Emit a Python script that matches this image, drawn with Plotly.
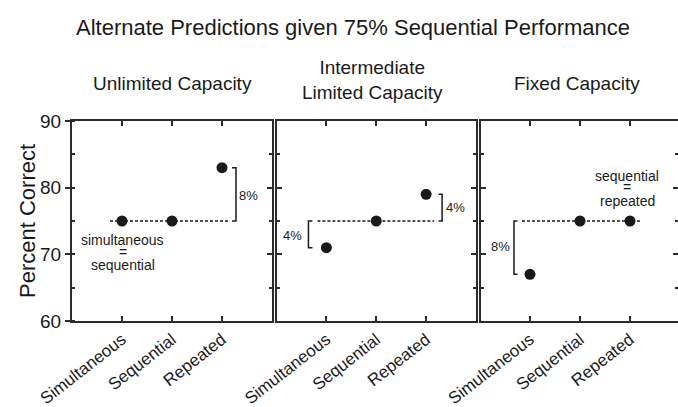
import plotly.graph_objects as go

conditions = ["Simultaneous", "Sequential", "Repeated"]
panel_titles = ["Unlimited Capacity", "Intermediate<br>Limited Capacity", "Fixed Capacity"]
unlimited = [75, 75, 83]
intermediate = [71, 75, 79]
fixed = [67, 75, 75]
baseline = 75
y_ticks = [60, 70, 80, 90]

panels = [unlimited, intermediate, fixed]
FONT = "Liberation Sans, Arial, sans-serif"
INK = "#1a1a1a"
LINE = "#2b2b2b"

fig = go.Figure()

domains = [[0.0, 0.3300], [0.3383, 0.6667], [0.6749, 1.0]]
xranges = [[-1.0, 3.0], [-0.99, 3.0], [-0.98, 2.96]]
# dashed reference line extents (in category units) per panel
dash_ext = [[-0.24, 2.12], [-0.18, 2.16], [-0.16, 2.2]]

for i, vals in enumerate(panels):
    xa = "x" if i == 0 else f"x{i+1}"
    ya = "y" if i == 0 else f"y{i+1}"
    fig.add_trace(go.Scatter(x=dash_ext[i], y=[baseline, baseline], mode="lines",
                             line=dict(color=INK, width=1.4, dash="3px,2px"),
                             xaxis=xa, yaxis=ya, showlegend=False, hoverinfo="skip"))
    fig.add_trace(go.Scatter(x=list(range(len(conditions))), y=vals, mode="markers",
                             marker=dict(size=11, color=INK),
                             xaxis=xa, yaxis=ya, showlegend=False))

def bracket(panel, xv, dx, y0, y1):
    xa = "x" if panel == 0 else f"x{panel+1}"
    ya = "y" if panel == 0 else f"y{panel+1}"
    fig.add_trace(go.Scatter(x=[xv + dx, xv, xv, xv + dx], y=[y0, y0, y1, y1], mode="lines",
                             line=dict(color=INK, width=1.5),
                             xaxis=xa, yaxis=ya, showlegend=False, hoverinfo="skip"))

bracket(0, 2.28, -0.08, unlimited[2], baseline)
bracket(1, 2.32, -0.07, intermediate[2], baseline)
bracket(1, -0.36, 0.08, baseline, intermediate[0])
bracket(2, -0.32, 0.07, baseline, fixed[0])

layout = dict(
    width=678, height=407,
    margin=dict(l=72, r=0, t=121, b=86),
    paper_bgcolor="white", plot_bgcolor="white",
    font=dict(family=FONT, color=INK),
    showlegend=False,
)

for i in range(3):
    xk = "xaxis" if i == 0 else f"xaxis{i+1}"
    yk = "yaxis" if i == 0 else f"yaxis{i+1}"
    ya = "y" if i == 0 else f"y{i+1}"
    xa = "x" if i == 0 else f"x{i+1}"
    layout[xk] = dict(domain=domains[i], range=xranges[i], anchor=ya,
                      tickmode="array", tickvals=list(range(len(conditions))), ticktext=conditions,
                      tickangle=-38, tickfont=dict(size=17, family=FONT, color=INK),
                      ticks="inside", ticklen=5, tickwidth=1.5, tickcolor=LINE,
                      showline=True, linecolor=LINE, linewidth=2, mirror="ticks",
                      showgrid=False, zeroline=False, fixedrange=True)
    ydict = dict(domain=[0, 1], range=[60, 90], anchor=xa,
                 tickmode="array", tickvals=y_ticks,
                 ticklen=5, tickwidth=1.5, tickcolor=LINE,
                 minor=dict(dtick=5, tick0=0, ticks="inside", ticklen=3, tickwidth=1.5, tickcolor=LINE),
                 showline=True, linecolor=LINE, linewidth=2, mirror=False,
                 showgrid=False, zeroline=False, fixedrange=True)
    if i == 0:
        ydict.update(ticks="outside", showticklabels=True,
                     tickfont=dict(size=19, family=FONT, color=INK))
    else:
        ydict.update(ticks="inside", showticklabels=False)
    layout[yk] = ydict
    rk = f"yaxis{i+4}"
    layout[rk] = dict(overlaying=ya, anchor=xa, side="right", range=[60, 90],
                      tickmode="array", tickvals=y_ticks, ticks="inside",
                      ticklen=5, tickwidth=1.5, tickcolor=LINE,
                      minor=dict(dtick=5, tick0=0, ticks="inside", ticklen=3, tickwidth=1.5, tickcolor=LINE),
                      showline=(i < 2), linecolor=LINE, linewidth=2,
                      showticklabels=False, showgrid=False, zeroline=False, fixedrange=True)
    fig.add_trace(go.Scatter(x=[None], y=[None], xaxis=xa, yaxis=f"y{i+4}",
                             showlegend=False, hoverinfo="skip"))

fig.update_layout(**layout)

ann = []
ann.append(dict(text="Alternate Predictions given 75% Sequential Performance", xref="paper", yref="paper",
                x=(353 - 72) / 606, y=1.465, showarrow=False, font=dict(size=22, family=FONT, color=INK),
                xanchor="center", yanchor="middle"))
sub_x = [172, 372, 577]
sub_y = [1.185, 1.205, 1.185]
for i, t in enumerate(panel_titles):
    ann.append(dict(text=t, xref="paper", yref="paper", x=(sub_x[i] - 72) / 606, y=sub_y[i],
                    showarrow=False, font=dict(size=19, family=FONT, color=INK),
                    xanchor="center", yanchor="middle"))
ann.append(dict(text="Percent Correct", xref="paper", yref="paper", x=(27 - 72) / 606, y=0.5,
                textangle=-90, showarrow=False, font=dict(size=22, family=FONT, color=INK),
                xanchor="center", yanchor="middle"))

def note(panel, x, y, text, size=14):
    xa = "x" if panel == 0 else f"x{panel+1}"
    ya = "y" if panel == 0 else f"y{panel+1}"
    ann.append(dict(text=text, xref=xa, yref=ya, x=x, y=y, showarrow=False,
                    font=dict(size=size, family=FONT, color=INK), xanchor="center", yanchor="middle"))

note(0, 0.02, 72.15, "simultaneous")
note(0, 0.02, 70.4, "=")
note(0, 0.02, 68.4, "sequential")
note(0, 2.54, 78.9, "8%", 13)
note(1, -0.68, 72.8, "4%", 13)
note(1, 2.58, 77.0, "4%", 13)
note(2, -0.58, 71.15, "8%", 13)
note(2, 1.946, 81.75, "sequential")
note(2, 1.946, 80.1, "=")
note(2, 1.946, 78.05, "repeated")

fig.update_layout(annotations=ann)
fig.write_html("out.html", config={"displayModeBar": False},
               post_script="document.body.style.margin='0';")
